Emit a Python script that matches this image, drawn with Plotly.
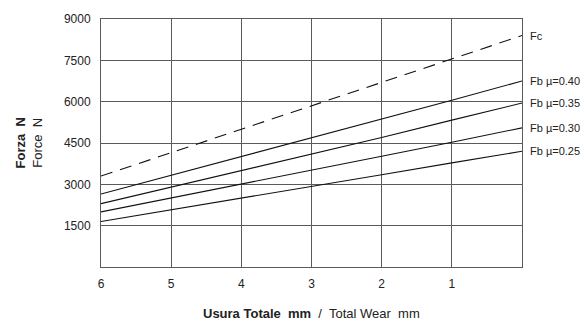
import plotly.graph_objects as go

# Usura totale (mm) - asse invertito
wear = [6, 5, 4, 3, 2, 1, 0]

fc = [3300, 4150, 5000, 5850, 6700, 7550, 8400]
fb_040 = [2650, 3330, 4000, 4680, 5370, 6050, 6750]
fb_035 = [2300, 2900, 3500, 4100, 4700, 5330, 5950]
fb_030 = [2000, 2500, 3000, 3520, 4020, 4530, 5050]
fb_025 = [1650, 2070, 2500, 2920, 3350, 3780, 4200]

x_ticks = [6, 5, 4, 3, 2, 1]
y_ticks = [1500, 3000, 4500, 6000, 7500, 9000]

FONT = "Arial, Liberation Sans, sans-serif"
GRID = "#5a5a5a"

series = [
    ("Fc", fc, "dash"),
    ("Fb \u00b5=0.40", fb_040, "solid"),
    ("Fb \u00b5=0.35", fb_035, "solid"),
    ("Fb \u00b5=0.30", fb_030, "solid"),
    ("Fb \u00b5=0.25", fb_025, "solid"),
]

fig = go.Figure()

for name, vals, dash in series:
    fig.add_trace(go.Scatter(
        x=wear, y=vals, mode="lines", name=name,
        line=dict(color="#111111", width=1.1,
                  dash="12px,8px" if dash == "dash" else "solid"),
        showlegend=False, hoverinfo="skip",
    ))
    # etichetta a destra della curva
    fig.add_annotation(
        x=wear[-1], y=vals[-1], text=name, showarrow=False,
        xanchor="left", yanchor="middle", xshift=6,
        font=dict(family=FONT, size=11, color="#222222"),
    )

fig.update_xaxes(
    range=[6, 0], tickvals=x_ticks, ticktext=[str(v) for v in x_ticks],
    showgrid=True, gridcolor=GRID, gridwidth=1,
    showline=True, linecolor=GRID, linewidth=1, mirror=True,
    zeroline=False, ticks="", ticklabelstandoff=6,
    tickfont=dict(family=FONT, size=12, color="#222222"),
)
fig.update_yaxes(
    range=[0, 9000], tickvals=y_ticks,
    showgrid=True, gridcolor=GRID, gridwidth=1,
    showline=True, linecolor=GRID, linewidth=1, mirror=True,
    zeroline=False, ticks="", ticklabelstandoff=7,
    tickfont=dict(family=FONT, size=12, color="#222222"),
)

# titoli degli assi
fig.add_annotation(
    xref="paper", yref="paper", x=-0.17, y=0.5,
    text="<b>Forza  N</b><br>Force  N", textangle=-90, showarrow=False,
    xanchor="center", yanchor="middle",
    font=dict(family=FONT, size=13, color="#222222"),
)
fig.add_annotation(
    xref="paper", yref="paper", x=0.5, y=0, yshift=-46,
    text="<b>Usura Totale  mm</b>  /  Total Wear  mm", showarrow=False,
    xanchor="center", yanchor="middle",
    font=dict(family=FONT, size=13, color="#222222"),
)

fig.update_layout(
    width=584, height=322,
    margin=dict(l=101, r=62, t=17, b=55),
    plot_bgcolor="white", paper_bgcolor="white",
)

fig.write_html("out.html", config={"displayModeBar": False},
               post_script="document.body.style.margin='0';")
